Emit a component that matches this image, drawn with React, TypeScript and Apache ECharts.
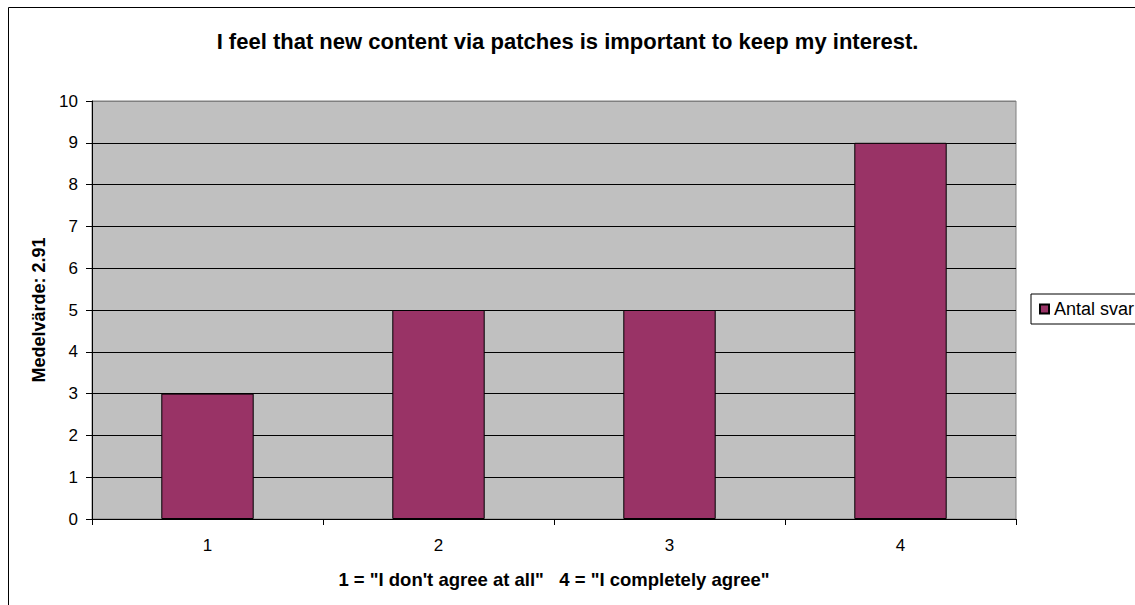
import React, { useEffect, useRef } from "react";
import * as echarts from "echarts";

const categories = ["1", "2", "3", "4"];
const antalSvar = [3, 5, 5, 9];
const titleText = "I feel that new content via patches is important to keep my interest.";
const yAxisName = "Medelvärde: 2.91";
const xAxisName = '1 = "I don\'t agree at all"   4 = "I completely agree"';
const seriesName = "Antal svar";

const FONT = "Arial, 'Liberation Sans', sans-serif";

export default function App() {
  const ref = useRef<HTMLDivElement>(null);
  useEffect(() => {
    if (!ref.current) return;
    const chart = echarts.init(ref.current, null, { renderer: "svg" });
    const splitColors = [
      "#000", "#000", "#000", "#000", "#000", "#000", "#000", "#000", "#000", "#000", "#808080",
    ];
    chart.setOption({
      animation: false,
      textStyle: { fontFamily: FONT },
      title: {
        text: titleText,
        left: "center",
        top: 30,
        padding: 0,
        textStyle: { fontFamily: FONT, fontSize: 22, fontWeight: "bold", color: "#000" },
      },
      graphic: [
        {
          type: "rect",
          shape: { x: 8.5, y: 7.5, width: 1400, height: 900 },
          style: { fill: "none", stroke: "#000", lineWidth: 1 },
          silent: true,
        },
      ],
      legend: {
        left: 1031,
        top: 294,
        orient: "vertical",
        padding: [6, 7, 6, 8],
        borderColor: "#000",
        borderWidth: 1,
        backgroundColor: "#fff",
        itemWidth: 9,
        itemHeight: 9,
        icon: "rect",
        textStyle: { fontFamily: FONT, fontSize: 18, color: "#000" },
        data: [seriesName],
      },
      grid: {
        left: 92,
        top: 101,
        width: 924,
        height: 418,
        show: true,
        backgroundColor: "#C0C0C0",
        borderColor: "#808080",
        borderWidth: 1,
        containLabel: false,
      },
      xAxis: {
        type: "category",
        data: categories,
        name: xAxisName,
        nameLocation: "middle",
        nameGap: 51,
        nameTextStyle: { fontFamily: FONT, fontSize: 18.5, fontWeight: "bold", color: "#000" },
        axisLine: { show: true, lineStyle: { color: "#000", width: 1 } },
        axisTick: { show: true, length: 6, lineStyle: { color: "#000" } },
        axisLabel: { margin: 18, fontFamily: FONT, fontSize: 17, color: "#000" },
        splitLine: { show: false },
      },
      yAxis: {
        type: "value",
        min: 0,
        max: 10,
        interval: 1,
        name: yAxisName,
        nameLocation: "middle",
        nameGap: 44,
        nameTextStyle: { fontFamily: FONT, fontSize: 18, fontWeight: "bold", color: "#000" },
        axisLine: { show: true, lineStyle: { color: "#000", width: 1 } },
        axisTick: { show: true, length: 6, lineStyle: { color: "#000" } },
        axisLabel: { margin: 14, fontFamily: FONT, fontSize: 17, color: "#000" },
        splitLine: { show: true, lineStyle: { color: splitColors, width: 1 } },
      },
      series: [
        {
          name: seriesName,
          type: "bar",
          data: antalSvar,
          barWidth: "40%",
          itemStyle: { color: "#993366", borderColor: "#000", borderWidth: 1 },
        },
      ],
    });
    return () => chart.dispose();
  }, []);
  return (
    <div
      ref={ref}
      style={{ position: "absolute", left: 0, top: 0, width: 1135, height: 605, background: "#fff" }}
    />
  );
}
